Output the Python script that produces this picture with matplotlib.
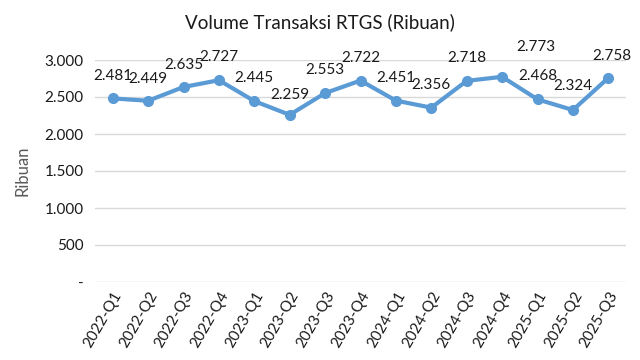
import matplotlib
matplotlib.use("Agg")
import matplotlib.pyplot as plt
from matplotlib.ticker import FuncFormatter

categories = ["2022-Q1", "2022-Q2", "2022-Q3", "2022-Q4",
              "2023-Q1", "2023-Q2", "2023-Q3", "2023-Q4",
              "2024-Q1", "2024-Q2", "2024-Q3", "2024-Q4",
              "2025-Q1", "2025-Q2", "2025-Q3"]
values = [2481, 2449, 2635, 2727, 2445, 2259, 2553, 2722,
          2451, 2356, 2718, 2773, 2468, 2324, 2758]
yticks = [0, 500, 1000, 1500, 2000, 2500, 3000]

# label offsets in pixels (dx, dy)
label_offsets = [(0, 22), (0, 22), (0, 22), (0, 23), (0, 23), (0, 20), (0, 23),
                 (0, 23), (0, 23), (0, 23), (0, 23), (34, 30), (0, 23), (0, 24), (4, 22)]

plt.rcParams['font.family'] = ['Lato', 'DejaVu Sans']

fig = plt.figure(figsize=(6.4, 3.6), dpi=100)
ax = fig.add_axes([95/640, 1-282/360, (626-95)/640, (282-60)/360])

color = "#5B9BD5"
x = list(range(len(categories)))
ax.plot(x, values, color=color, linewidth=3, marker='o', markersize=7,
        solid_capstyle='round', zorder=3)

for xi, v, (dx, dy) in zip(x, values, label_offsets):
    lab = f"{v:,}".replace(",", ".")
    ax.annotate(lab, (xi, v), xytext=(dx, dy), textcoords='offset pixels',
                ha='center', va='center', fontsize=11, color='#1a1a1a')

ax.set_xlim(-0.5, len(categories) - 0.5)
ax.set_ylim(0, 3000)
ax.set_yticks(yticks)
ax.yaxis.set_major_formatter(FuncFormatter(
    lambda v, p: "-" if v == 0 else f"{int(v):,}".replace(",", ".")))
ax.set_xticks(x)
ax.set_xticklabels(categories, rotation=60, ha='right', rotation_mode='anchor')
ax.tick_params(axis='both', length=0, labelsize=11, colors='#1a1a1a')
ax.tick_params(axis='y', pad=8)
ax.tick_params(axis='x', pad=5)
ax.grid(axis='y', color='#D9D9D9', linewidth=1)
ax.set_axisbelow(True)
for s in ax.spines.values():
    s.set_visible(False)

ax.set_ylabel("Ribuan", fontsize=12, color='#595959', labelpad=10)
fig.text(320/640, 1-22/360, "Volume Transaksi RTGS (Ribuan)", ha='center',
         va='center', fontsize=13.5, color='#1a1a1a')

fig.savefig("out.png", dpi=100)
